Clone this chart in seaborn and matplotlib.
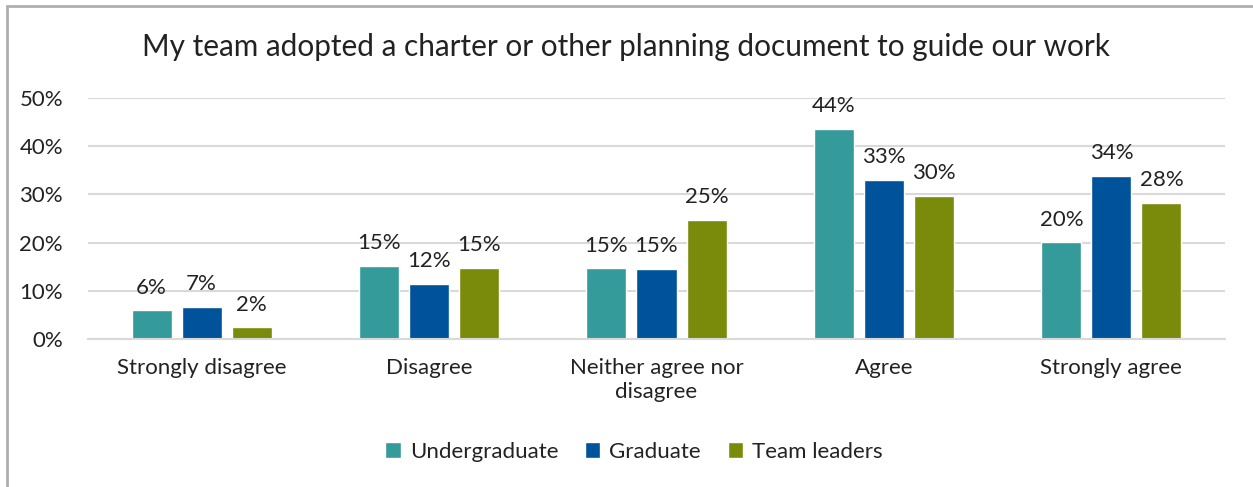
import matplotlib
matplotlib.use("Agg")
import matplotlib.pyplot as plt
import seaborn as sns
import pandas as pd
from matplotlib.lines import Line2D
from matplotlib.ticker import FuncFormatter

categories = ["Strongly disagree", "Disagree", "Neither agree nor\ndisagree", "Agree", "Strongly agree"]
series = ["Undergraduate", "Graduate", "Team leaders"]
undergraduate = [6.0, 15.2, 14.7, 43.6, 20.1]
graduate = [6.7, 11.5, 14.6, 33.0, 33.9]
team_leaders = [2.4, 14.8, 24.7, 29.7, 28.3]
title = "My team adopted a charter or other planning document to guide our work"
colors = ["#349B9A", "#00529B", "#7A8A0A"]

rows = []
for name, vals in zip(series, [undergraduate, graduate, team_leaders]):
    for c, v in zip(categories, vals):
        rows.append({"category": c, "series": name, "value": v / 100})
df = pd.DataFrame(rows)

sns.set_theme(style="white")
plt.rcParams["font.family"] = ["Lato", "DejaVu Sans"]

fig = plt.figure(figsize=(12.53, 4.87), dpi=100)
ax = fig.add_axes([0.0702, 0.3039, 0.9075, 0.4949])

sns.barplot(data=df, x="category", y="value", hue="series", order=categories,
            hue_order=series, palette=colors, width=0.66, gap=0.2,
            saturation=1, ax=ax, legend=True)

ax.set_ylim(0, 0.5)
ax.set_yticks([0, 0.1, 0.2, 0.3, 0.4, 0.5])
ax.yaxis.set_major_formatter(FuncFormatter(lambda v, p: f"{v*100:.0f}%"))
ax.grid(axis="y", color="#D9D9D9", linewidth=1.5)
ax.set_axisbelow(True)
for s in ["top", "right", "left"]:
    ax.spines[s].set_visible(False)
ax.spines["bottom"].set_color("#D9D9D9")
ax.spines["bottom"].set_linewidth(1.5)
ax.set_xlabel("")
ax.set_ylabel("")
ax.tick_params(axis="y", labelsize=16, pad=18, length=0, colors="#222222")
ax.tick_params(axis="x", labelsize=16, pad=14, length=0, colors="#222222")
ax.set_xlim(-0.5, 4.5)

for cont in ax.containers:
    labels = [f"{b.get_height()*100:.0f}%" for b in cont]
    ax.bar_label(cont, labels=labels, padding=9, fontsize=16, color="#222222")

handles, lbls = ax.get_legend_handles_labels()
ax.legend_.remove()
leg = fig.legend(handles, lbls, loc="center", bbox_to_anchor=(0.506, 0.072), ncol=3,
                 frameon=False, fontsize=16, handlelength=0.7, handleheight=0.7,
                 handletextpad=0.4, columnspacing=1.2)
for t in leg.get_texts():
    t.set_color("#222222")

fig.text(0.5, 0.903, title, ha="center", va="center", fontsize=21.4, color="#222222")

# partial border (top and left)
fig.add_artist(Line2D([0.0055, 1.0], [0.9887, 0.9887], transform=fig.transFigure,
                      color="#AFAFAF", linewidth=2))
fig.add_artist(Line2D([0.0055, 0.0055], [0.0, 0.9887], transform=fig.transFigure,
                      color="#AFAFAF", linewidth=2))

fig.savefig("out.png", dpi=100, facecolor="white")
